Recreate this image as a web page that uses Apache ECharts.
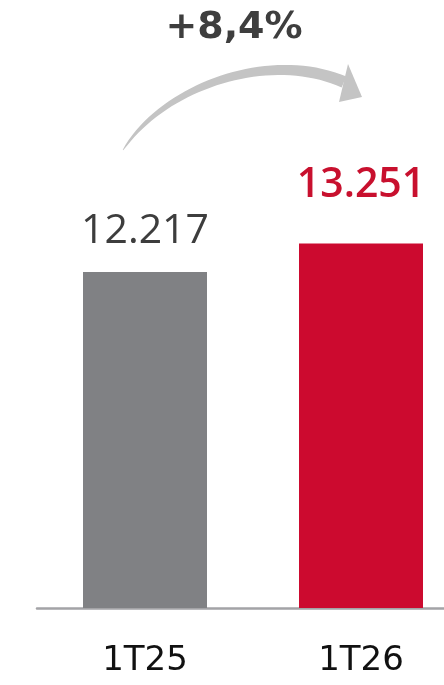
<!DOCTYPE html>
<html>
<head>
<meta charset="utf-8">
<script src="https://cdn.jsdelivr.net/npm/echarts@6/dist/echarts.min.js"></script>
<style>
  html, body { margin: 0; padding: 0; background: #fff; }
  #main { width: 444px; height: 685px; }
</style>
</head>
<body>
<div id="main"></div>
<script>
var categories = ['1T25', '1T26'];
var values = [12217, 13251];
var valueLabels = ['12.217', '13.251'];
var growthLabel = '+8,4%';

var barColors = ['#808184', '#cc0a2f'];
var labelColors = ['#3d3d3d', '#c8102e'];
var labelWeights = ['normal', 600];
var labelGaps = [20, 38];

var myChart = echarts.init(document.getElementById('main'));

// arrow shaft: cubic bezier, tapered
function bez(p0, p1, p2, p3, t) {
  var u = 1 - t;
  return [
    u*u*u*p0[0] + 3*u*u*t*p1[0] + 3*u*t*t*p2[0] + t*t*t*p3[0],
    u*u*u*p0[1] + 3*u*u*t*p1[1] + 3*u*t*t*p2[1] + t*t*t*p3[1]
  ];
}
function arrowShaft() {
  var p0 = [123, 150], p1 = [165, 85], p2 = [270, 50], p3 = [344, 82];
  var left = [], right = [];
  var n = 40;
  for (var i = 0; i <= n; i++) {
    var t = i / n;
    var a = bez(p0, p1, p2, p3, t);
    var b = bez(p0, p1, p2, p3, Math.min(1, t + 0.001));
    var c = bez(p0, p1, p2, p3, Math.max(0, t - 0.001));
    var dx = b[0] - c[0], dy = b[1] - c[1];
    var len = Math.sqrt(dx*dx + dy*dy);
    var nx = -dy / len, ny = dx / len;
    var w = (0.5 + 11.5 * Math.pow(t, 0.6)) / 2;
    left.push([a[0] + nx*w, a[1] + ny*w]);
    right.unshift([a[0] - nx*w, a[1] - ny*w]);
  }
  return left.concat(right);
}

var option = {
  animation: false,
  grid: {
    left: 37,
    width: 432,
    top: 3,
    bottom: 77,
    outerBoundsMode: 'none'
  },
  xAxis: {
    type: 'category',
    data: categories,
    axisTick: { show: false },
    axisLine: { lineStyle: { color: '#a3a3a6', width: 2.5 } },
    axisLabel: {
      color: '#111',
      fontSize: 34,
      fontFamily: 'DejaVu Sans',
      margin: 36
    }
  },
  yAxis: {
    type: 'value',
    min: 0,
    max: 22000,
    show: false,
    splitLine: { show: false }
  },
  series: [{
    type: 'bar',
    barWidth: 124,
    data: values.map(function(v, i) {
      return {
        value: v,
        itemStyle: { color: barColors[i] },
        label: {
          show: true,
          position: 'top',
          distance: labelGaps[i],
          formatter: valueLabels[i],
          color: labelColors[i],
          fontSize: 41,
          fontWeight: labelWeights[i],
          fontFamily: 'Open Sans'
        }
      };
    })
  }],
  graphic: [{
    type: 'polygon',
    shape: { points: arrowShaft() },
    style: { fill: '#c4c4c4' }
  }, {
    type: 'polygon',
    shape: { points: [[348, 64], [362, 97], [339, 102]] },
    style: { fill: '#c4c4c4' }
  }, {
    type: 'text',
    style: {
      text: growthLabel,
      x: 234,
      y: 28,
      align: 'center',
      verticalAlign: 'middle',
      fill: '#3e3e3e',
      fontSize: 38,
      fontWeight: 'bold',
      fontFamily: 'DejaVu Sans'
    }
  }]
};
myChart.setOption(option);
</script>
</body>
</html>
